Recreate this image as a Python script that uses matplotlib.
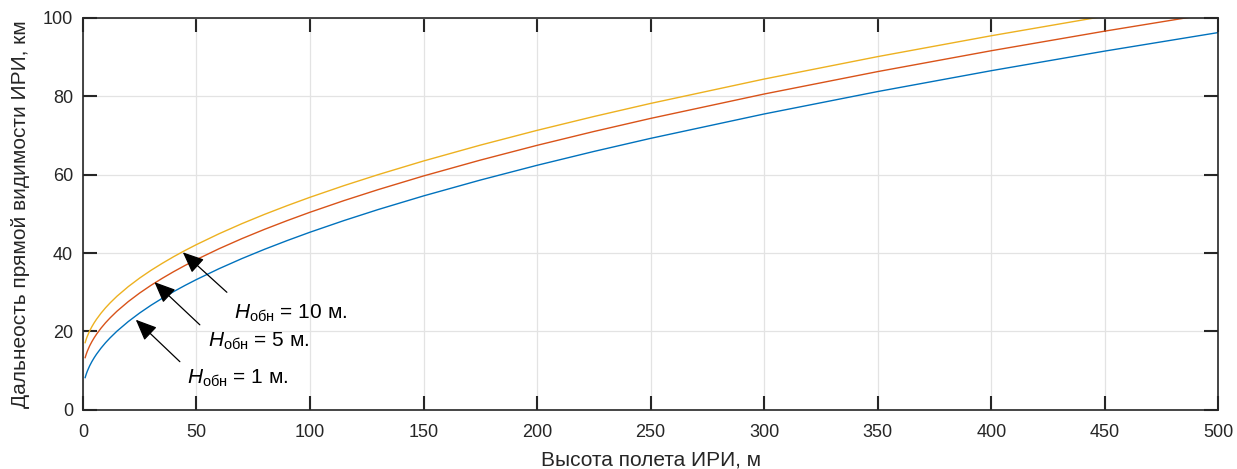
import numpy as np
import matplotlib
matplotlib.use("Agg")
import matplotlib.pyplot as plt

plt.rcParams['font.family'] = ['Liberation Sans', 'DejaVu Sans']
plt.rcParams['mathtext.fontset'] = 'custom'
plt.rcParams['mathtext.rm'] = 'Liberation Sans'
plt.rcParams['mathtext.it'] = 'Liberation Sans:italic'

# высота полета ИРИ, м
H = [1, 1.5, 2, 3, 4, 5, 6, 8, 10, 12, 15, 20, 25, 30, 35, 40, 45, 50,
     60, 70, 80, 90, 100, 115, 130, 150, 175, 200, 225, 250, 300, 350,
     400, 450, 500]
# дальность прямой видимости, км (высота обнаружителя 1, 5, 10 м)
D_1 = [8.24, 9.17, 9.95, 11.26, 12.36, 13.33, 14.21, 15.77, 17.15, 18.39,
       20.08, 22.54, 24.72, 26.69, 28.49, 30.18, 31.76, 33.25, 36.03,
       38.59, 40.97, 43.20, 45.32, 48.30, 51.10, 54.58, 58.62, 62.39,
       65.92, 69.26, 75.48, 81.20, 86.52, 91.52, 96.25]
D_5 = [13.33, 14.25, 15.04, 16.35, 17.45, 18.42, 19.30, 20.86, 22.24, 23.48,
       25.17, 27.63, 29.81, 31.78, 33.58, 35.27, 36.85, 38.34, 41.12,
       43.68, 46.06, 48.29, 50.41, 53.39, 56.18, 59.67, 63.71, 67.48,
       71.01, 74.35, 80.57, 86.29, 91.61, 96.61, 101.34]
D_10 = [17.15, 18.08, 18.86, 20.17, 21.27, 22.24, 23.12, 24.68, 26.06, 27.30,
        28.99, 31.45, 33.63, 35.60, 37.40, 39.09, 40.67, 42.16, 44.94,
        47.50, 49.88, 52.11, 54.23, 57.21, 60.00, 63.49, 67.53, 71.30,
        74.83, 78.17, 84.39, 90.11, 95.43, 100.43, 105.16]

fig = plt.figure(figsize=(12.37, 4.69), dpi=100)
ax = fig.add_axes([0.067, 0.126, 0.918, 0.836])

ax.plot(H, D_1, color='#0072BD', lw=1)
ax.plot(H, D_5, color='#D95319', lw=1)
ax.plot(H, D_10, color='#EDB120', lw=1)

ax.set_xlim(0, 500)
ax.set_ylim(0, 100)
ax.set_xticks(np.arange(0, 501, 50))
ax.set_yticks(np.arange(0, 101, 20))
ax.grid(True, color='#e3e3e3', lw=0.9)
ax.set_axisbelow(True)
for s in ax.spines.values():
    s.set_color('#262626')
    s.set_linewidth(1.2)
ax.tick_params(direction='in', length=10, width=1.5, color='#262626',
               labelsize=13, labelcolor='#262626', top=True, right=True)
ax.tick_params(axis='x', pad=10)
ax.tick_params(axis='y', pad=7)

ax.set_xlabel('Высота полета ИРИ, м', fontsize=15, color='#262626', labelpad=7)
ax.set_ylabel('Дальнеость прямой видимости ИРИ, км', fontsize=15,
              color='#262626', labelpad=9)

# стрелки-указатели и подписи высоты обнаружителя
arr = dict(arrowstyle='-|>,head_length=0.65,head_width=0.28', color='k',
           lw=0.9, mutation_scale=20, shrinkA=0, shrinkB=0)
labels = ['$H_{\\mathrm{обн}}$ = 10 м.', '$H_{\\mathrm{обн}}$ = 5 м.',
          '$H_{\\mathrm{обн}}$ = 1 м.']
tips = [(44, 40.2), (31.5, 32.6), (23.3, 23.0)]
tails = [(63.4, 30.0), (51.5, 21.7), (42.7, 12.3)]
txt = [(66.5, 24.5), (55.0, 17.5), (46.0, 8.0)]
for lab, tip, tail, tp in zip(labels, tips, tails, txt):
    ax.annotate('', xy=tip, xytext=tail, arrowprops=arr)
    ax.text(tp[0], tp[1], lab, fontsize=15, ha='left', va='center')

fig.savefig('out.png', dpi=100)
